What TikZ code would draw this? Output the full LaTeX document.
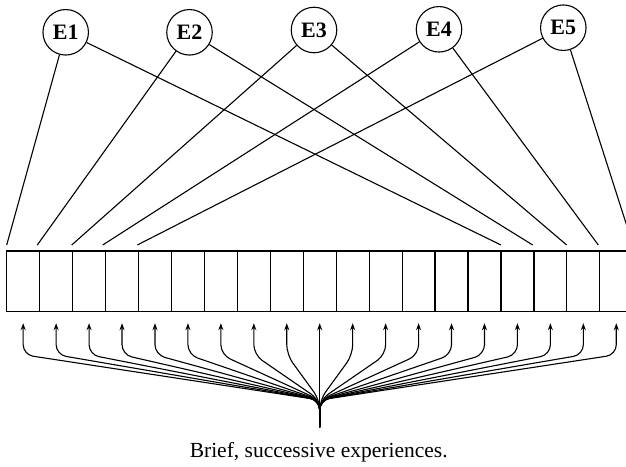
\documentclass[tikz,border=0pt]{standalone}
\usepackage{fontspec}
\setmainfont{Liberation Serif}
\usetikzlibrary{arrows.meta,calc}
\begin{document}
\begin{tikzpicture}[x=1pt,y=-1pt,
  ev/.style={circle,draw,line width=1.1pt,minimum size=45.5pt,inner sep=0pt,
    font=\bfseries\fontsize{22}{22}\selectfont},
  cell/.style={draw,line width=1.2pt,minimum width=32.95pt,minimum height=60.7pt,
    inner sep=0pt,outer sep=0pt},
  link/.style={line width=1.1pt},
  fan/.style={line width=1.1pt,rounded corners=10pt,-{Stealth[length=7pt,width=5pt]}},
  caption/.style={font=\fontsize{21.5}{21.5}\selectfont,inner sep=0pt,anchor=base}
]
\useasboundingbox (0,0) rectangle (626,466);
\clip (0,0) rectangle (626,466);

% strip of cells
\foreach \k in {0,...,18}
  \node[cell] (c\k) at ({6.7+32.95*(\k+0.5)},281.35) {};

% events
\node[ev] (E1) at (65.7,32.3) {E1};
\node[ev] (E2) at (189.5,32.3) {E2};
\node[ev] (E3) at (314,30) {E3};
\node[ev] (E4) at (439,29.3) {E4};
\node[ev] (E5) at (563.3,27.7) {E5};

% line ends above the strip
\coordinate (l1) at (6.7,245);
\coordinate (l2) at (37.3,245);
\coordinate (l3) at (71.7,245);
\coordinate (l4) at (102.7,245);
\coordinate (l5) at (137.3,245);
\coordinate (r1) at (501,245);
\coordinate (r2) at (532.7,245);
\coordinate (r3) at (566.7,245);
\coordinate (r4) at (598.3,245);
\coordinate (r5) at (633,245);

\foreach \i in {1,...,5} {
  \draw[link] (E\i) -- (l\i);
  \draw[link] (E\i) -- (r\i);
}

% fan of arrows
\coordinate (root) at ($(c9.south)+(0,115.3)$);
\coordinate (hub) at ($(c9.south)+(0,88.3)$);
\foreach \k in {0,...,18}
  \draw[fan] (root) -- (hub) -- ($(c\k.south)+(0,43)$) -- ($(c\k.south)+(0,11.5)$);

\node[caption] (cap) at (318.7,457.7) {Brief, successive experiences.};
\end{tikzpicture}
\end{document}
